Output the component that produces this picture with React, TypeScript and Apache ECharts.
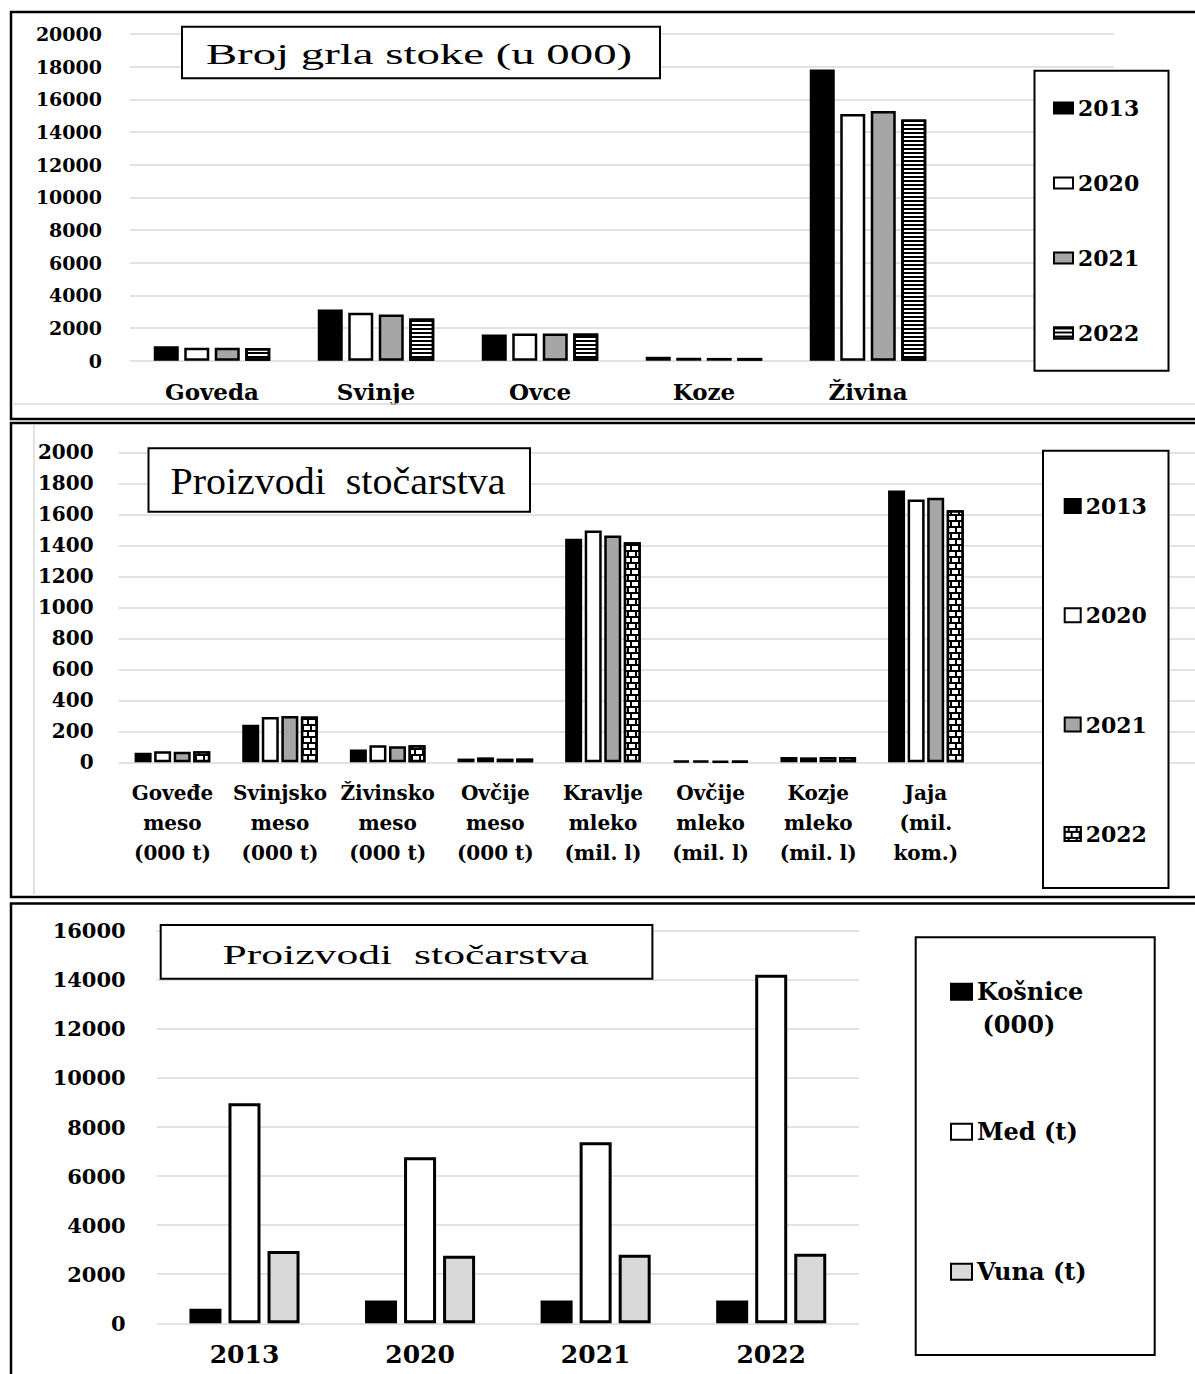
import React, { useEffect, useRef } from 'react';
import * as echarts from 'echarts';

// Panel 1: Broj grla stoke (u 000)
const livestockCats = ['Goveda', 'Svinje', 'Ovce', 'Koze', 'Živina', ''];
const livestock2013 = [890, 3140, 1610, 240, 17830];
const livestock2020 = [800, 2930, 1670, 180, 15110];
const livestock2021 = [800, 2830, 1670, 170, 15280];
const livestock2022 = [770, 2580, 1670, 170, 14770];

// Panel 2: Proizvodi stočarstva
const productCats = [
  'Goveđe\nmeso\n(000 t)',
  'Svinjsko\nmeso\n(000 t)',
  'Živinsko\nmeso\n(000 t)',
  'Ovčije\nmeso\n(000 t)',
  'Kravlje\nmleko\n(mil. l)',
  'Ovčije\nmleko\n(mil. l)',
  'Kozje\nmleko\n(mil. l)',
  'Jaja\n(mil.\nkom.)',
  '',
  '',
];
const products2013 = [62, 243, 82, 24, 1443, 10, 34, 1753];
const products2020 = [72, 293, 110, 32, 1495, 10, 32, 1695];
const products2021 = [68, 299, 104, 24, 1463, 6, 34, 1706];
const products2022 = [72, 295, 110, 24, 1419, 6, 34, 1626];

// Panel 3: Proizvodi stočarstva (pčelarstvo, vuna)
const beeYears = ['2013', '2020', '2021', '2022'];
const hives = [590, 930, 930, 930];
const honey = [8970, 6770, 7380, 14200];
const wool = [2950, 2750, 2790, 2830];

const years = ['2013', '2020', '2021', '2022'];

const SERIF = '"DejaVu Serif", serif';
const TIMES = '"Liberation Serif", serif';
const GRID_GRAY = '#d9d9d9';

const stripeDecal = {
  symbol: 'rect',
  symbolSize: 1,
  color: '#000',
  dashArrayX: [1, 0],
  dashArrayY: [2, 2],
  rotation: 0,
};

const brickDecal = {
  symbol: 'rect',
  symbolSize: 1,
  color: '#fff',
  dashArrayX: [[6, 1.8], [3, 1.8, 6, 1.8, 3, 0]],
  dashArrayY: [4, 1.8],
  rotation: 0,
};

function App() {
  const ref = useRef<HTMLDivElement>(null);

  useEffect(() => {
    if (!ref.current) return;
    const chart = echarts.init(ref.current, null, { renderer: 'svg' });

    const yLabel = (size: number, margin: number) => ({
      fontFamily: SERIF,
      fontWeight: 'bold',
      fontSize: size,
      color: '#000',
      margin,
      formatter: (v: number) => String(v),
    });

    const p1Styles = [
      { color: '#000' },
      { color: '#fff' },
      { color: '#a6a6a6' },
      { color: '#fff', decal: stripeDecal },
    ];
    const p2Styles = [
      { color: '#000' },
      { color: '#fff' },
      { color: '#a6a6a6' },
      { color: '#000', decal: brickDecal },
    ];
    const p1Data = [livestock2013, livestock2020, livestock2021, livestock2022];
    const p2Data = [products2013, products2020, products2021, products2022];

    const series: any[] = [];
    years.forEach((y, i) => {
      series.push({
        name: y,
        type: 'bar',
        xAxisIndex: 0,
        yAxisIndex: 0,
        data: p1Data[i],
        barWidth: 25,
        barGap: '22%',
        itemStyle: { ...p1Styles[i], borderColor: '#000', borderWidth: 2.5 },
      });
    });
    years.forEach((y, i) => {
      series.push({
        name: 'P2-' + y,
        type: 'bar',
        xAxisIndex: 1,
        yAxisIndex: 1,
        data: p2Data[i],
        barWidth: 17,
        barGap: '15%',
        itemStyle: { ...p2Styles[i], borderColor: '#000', borderWidth: 2.5 },
      });
    });
    const p3Names = ['Košnice (000)', 'Med (t)', 'Vuna (t)'];
    const p3Data = [hives, honey, wool];
    const p3Colors = ['#000', '#fff', '#d9d9d9'];
    p3Names.forEach((n, i) => {
      series.push({
        name: n,
        type: 'bar',
        xAxisIndex: 2,
        yAxisIndex: 2,
        data: p3Data[i],
        barWidth: 32,
        barGap: '22%',
        itemStyle: { color: p3Colors[i], borderColor: '#000', borderWidth: 3 },
      });
    });

    const legendText = (size: number) => ({
      fontFamily: SERIF,
      fontWeight: 'bold',
      fontSize: size,
      lineHeight: size,
      color: '#000',
    });

    const option: any = {
      animation: false,
      backgroundColor: '#fff',
      grid: [
        { left: 130, top: 34, width: 984, height: 326.7 },
        { left: 118.6, top: 452.3, width: 1089, height: 310 },
        { left: 156.7, top: 930.7, width: 702.3, height: 392.6 },
      ],
      xAxis: [
        {
          type: 'category',
          gridIndex: 0,
          data: livestockCats,
          axisTick: { show: false },
          axisLine: { show: false },
          axisLabel: {
            interval: 0,
            fontFamily: SERIF,
            fontWeight: 'bold',
            fontSize: 23,
            color: '#000',
            margin: 19,
          },
        },
        {
          type: 'category',
          gridIndex: 1,
          data: productCats,
          axisTick: { show: false },
          axisLine: { show: false },
          axisLabel: {
            interval: 0,
            fontFamily: SERIF,
            fontWeight: 'bold',
            fontSize: 20,
            lineHeight: 30,
            color: '#000',
            margin: 16,
          },
        },
        {
          type: 'category',
          gridIndex: 2,
          data: beeYears,
          axisTick: { show: false },
          axisLine: { show: false },
          axisLabel: {
            interval: 0,
            fontFamily: SERIF,
            fontWeight: 'bold',
            fontSize: 25,
            color: '#000',
            margin: 19,
          },
        },
      ],
      yAxis: [
        {
          type: 'value',
          gridIndex: 0,
          min: 0,
          max: 20000,
          interval: 2000,
          axisLabel: yLabel(19, 28),
          splitLine: { lineStyle: { color: GRID_GRAY, width: 1.5 } },
        },
        {
          type: 'value',
          gridIndex: 1,
          min: 0,
          max: 2000,
          interval: 200,
          axisLabel: yLabel(20, 25),
          splitLine: { lineStyle: { color: GRID_GRAY, width: 1.5 } },
        },
        {
          type: 'value',
          gridIndex: 2,
          min: 0,
          max: 16000,
          interval: 2000,
          axisLabel: yLabel(21, 31),
          splitLine: { lineStyle: { color: GRID_GRAY, width: 1.5 } },
        },
      ],
      legend: [
        {
          data: years,
          orient: 'vertical',
          left: 1048,
          top: 92,
          itemGap: 53,
          itemWidth: 19,
          itemHeight: 11,
          icon: 'rect',
          selectedMode: false,
          textStyle: legendText(22),
          z: 5,
        },
        {
          data: years.map((y) => 'P2-' + y),
          orient: 'vertical',
          left: 1058.7,
          top: 490,
          itemGap: 87.3,
          itemWidth: 16,
          itemHeight: 14,
          icon: 'rect',
          selectedMode: false,
          formatter: (n: string) => n.replace('P2-', ''),
          textStyle: legendText(22),
          z: 5,
        },
        {
          data: p3Names,
          orient: 'vertical',
          left: 945,
          top: 974.7,
          itemGap: 116,
          itemWidth: 21,
          itemHeight: 16,
          icon: 'rect',
          selectedMode: false,
          formatter: (n: string) => (n === 'Košnice (000)' ? 'Košnice' : n),
          textStyle: legendText(24),
          z: 5,
        },
      ],
      graphic: {
        elements: [
          // panel frames
          { type: 'rect', z: 1, shape: { x: 11, y: 12, width: 1195, height: 407 }, style: { fill: 'none', stroke: '#000', lineWidth: 2.5 } },
          { type: 'line', z: 1, shape: { x1: 12, y1: 404, x2: 1195, y2: 404 }, style: { stroke: GRID_GRAY, lineWidth: 1.5 } },
          { type: 'rect', z: 1, shape: { x: 11, y: 423, width: 1195, height: 474 }, style: { fill: 'none', stroke: '#000', lineWidth: 2.5 } },
          { type: 'line', z: 1, shape: { x1: 34, y1: 425, x2: 34, y2: 896 }, style: { stroke: GRID_GRAY, lineWidth: 1.5 } },
          { type: 'rect', z: 1, shape: { x: 11, y: 903.5, width: 1195, height: 480 }, style: { fill: 'none', stroke: '#000', lineWidth: 2.5 } },
          // legend boxes
          { type: 'rect', z: 3, shape: { x: 1034.5, y: 70.7, width: 134, height: 300 }, style: { fill: '#fff', stroke: '#000', lineWidth: 2 } },
          { type: 'rect', z: 3, shape: { x: 1043, y: 450.7, width: 125.5, height: 437.3 }, style: { fill: '#fff', stroke: '#000', lineWidth: 2 } },
          { type: 'rect', z: 3, shape: { x: 915.7, y: 937.3, width: 239, height: 417.7 }, style: { fill: '#fff', stroke: '#000', lineWidth: 2 } },
          {
            type: 'text', z: 11, x: 982.5, y: 1024,
            style: { text: '(000)', fontFamily: SERIF, fontWeight: 'bold', fontSize: 24, fill: '#000', align: 'left', verticalAlign: 'middle' },
          },
          // title boxes
          { type: 'rect', z: 10, shape: { x: 182, y: 26.7, width: 478, height: 51.6 }, style: { fill: '#fff', stroke: '#000', lineWidth: 2 } },
          {
            type: 'text', z: 11, x: 419, y: 54, scaleX: 1.56,
            style: { text: 'Broj grla stoke (u 000)', fontFamily: TIMES, fontSize: 30, fill: '#000', align: 'center', verticalAlign: 'middle' },
          },
          { type: 'rect', z: 10, shape: { x: 148.5, y: 448.3, width: 381.5, height: 63.4 }, style: { fill: '#fff', stroke: '#000', lineWidth: 2 } },
          {
            type: 'text', z: 11, x: 338, y: 482, scaleX: 1.08,
            style: { text: 'Proizvodi  stočarstva', fontFamily: TIMES, fontSize: 37, fill: '#000', align: 'center', verticalAlign: 'middle' },
          },
          { type: 'rect', z: 10, shape: { x: 160.7, y: 925, width: 491.7, height: 53.7 }, style: { fill: '#fff', stroke: '#000', lineWidth: 2 } },
          {
            type: 'text', z: 11, x: 405.5, y: 954, scaleX: 1.56,
            style: { text: 'Proizvodi  stočarstva', fontFamily: TIMES, fontSize: 28, fill: '#000', align: 'center', verticalAlign: 'middle' },
          },
        ],
      },
      series,
    };

    chart.setOption(option);
    return () => chart.dispose();
  }, []);

  return (
    <div
      ref={ref}
      style={{ position: 'absolute', left: 0, top: 0, width: 1195, height: 1374, background: '#fff' }}
    />
  );
}

export default App;
